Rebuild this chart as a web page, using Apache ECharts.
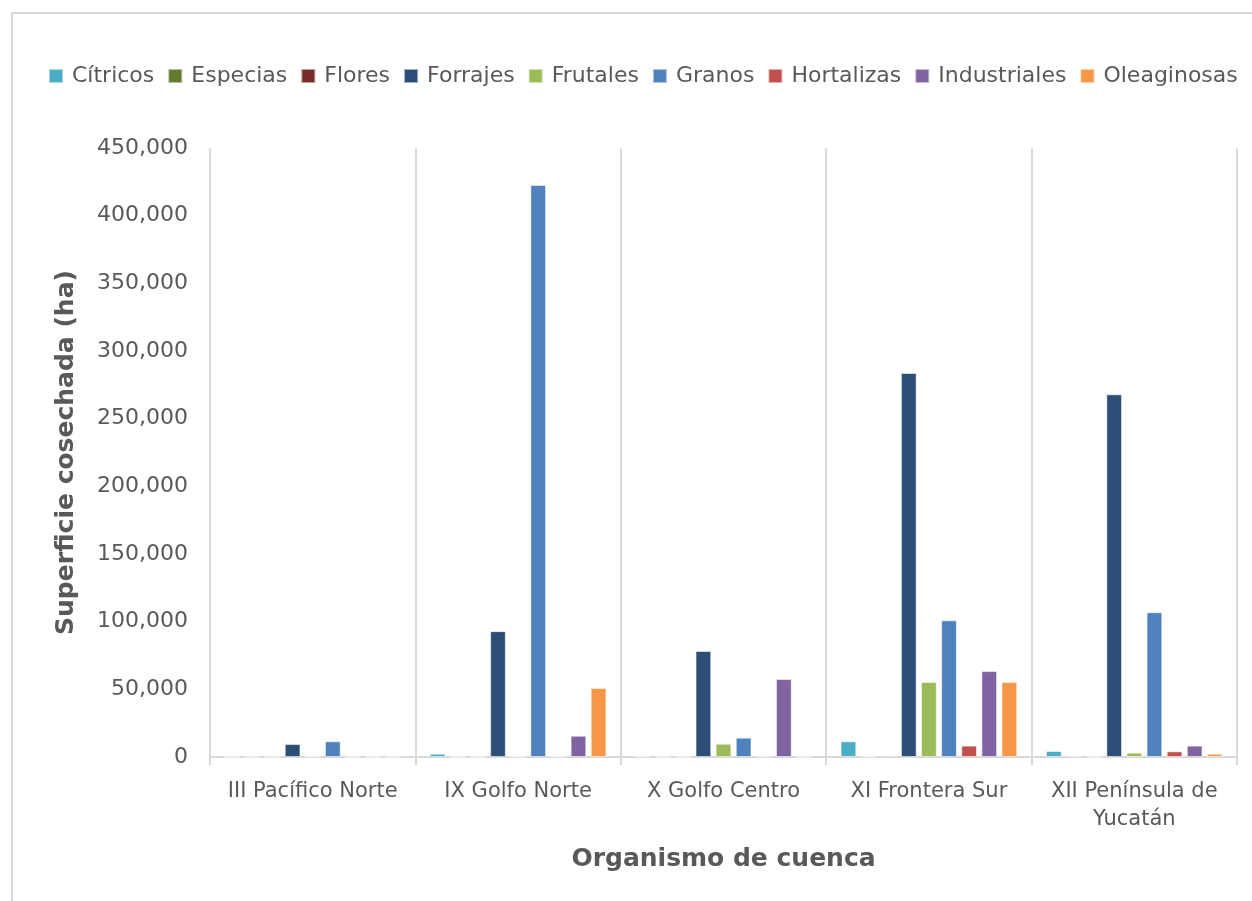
<!DOCTYPE html>
<html>
<head>
<meta charset="utf-8">
<title>Superficie cosechada por organismo de cuenca</title>
<script src="https://cdn.jsdelivr.net/npm/echarts@6/dist/echarts.min.js"></script>
<style>
    html, body { margin: 0; padding: 0; background: #fff; }
    #chart { width: 1252px; height: 901px; }
</style>
</head>
<body>
<div id="chart"></div>
<script>
    // categorias (organismos de cuenca)
    const cuencas = ['III Pacífico Norte', 'IX Golfo Norte', 'X Golfo Centro', 'XI Frontera Sur', 'XII Península de\nYucatán'];

    // superficie cosechada (ha)
    const citricos     = [200, 2400, 500, 11600, 4400];
    const especias     = [100, 200, 200, 300, 800];
    const flores       = [100, 100, 100, 1000, 100];
    const forrajes     = [9600, 93000, 78300, 283800, 268000];
    const frutales     = [500, 300, 9800, 55400, 3200];
    const granos       = [11600, 422700, 14300, 101000, 107000];
    const hortalizas   = [200, 300, 600, 8400, 4200];
    const industriales = [100, 15700, 57600, 63500, 8400];
    const oleaginosas  = [100, 51000, 200, 55400, 2400];

    const yTicks = [0, 50000, 100000, 150000, 200000, 250000, 300000, 350000, 400000, 450000];

    const seriesDefs = [
        ['Cítricos', citricos, '#4BACC6'],
        ['Especias', especias, '#647A2E'],
        ['Flores', flores, '#772C2A'],
        ['Forrajes', forrajes, '#2C4D75'],
        ['Frutales', frutales, '#9BBB59'],
        ['Granos', granos, '#4F81BD'],
        ['Hortalizas', hortalizas, '#C0504D'],
        ['Industriales', industriales, '#8064A2'],
        ['Oleaginosas', oleaginosas, '#F79646']
    ];

    const font = '"DejaVu Sans", "Open Sans", sans-serif';
    const chart = echarts.init(document.getElementById('chart'));

    const option = {
        animation: false,
        textStyle: { fontFamily: font },
        graphic: [{
            type: 'rect',
            shape: { x: 12, y: 13, width: 1300, height: 950 },
            style: { fill: 'none', stroke: '#D9D9D9', lineWidth: 2 },
            silent: true
        }],
        legend: {
            top: 65,
            left: 48,
            width: 1204,
            padding: 0,
            itemWidth: 14,
            itemHeight: 14,
            itemGap: 13,
            icon: 'rect',
            textStyle: { fontSize: 22, color: '#595959', fontFamily: font, padding: [0, 0, 0, 4] },
            data: seriesDefs.map(s => s[0])
        },
        grid: {
            left: 210,
            right: 15,
            top: 148,
            bottom: 144
        },
        xAxis: {
            type: 'category',
            data: cuencas,
            name: 'Organismo de cuenca',
            nameLocation: 'middle',
            nameGap: 90,
            nameTextStyle: { fontSize: 25, fontWeight: 'bold', color: '#595959', fontFamily: font },
            axisLine: { lineStyle: { color: '#D9D9D9', width: 2 } },
            axisTick: { show: true, length: 8, interval: 0, lineStyle: { color: '#D9D9D9', width: 2 } },
            splitLine: { show: true, interval: 0, lineStyle: { color: '#D9D9D9', width: 2 } },
            axisLabel: { fontSize: 21, color: '#595959', margin: 21, interval: 0, lineHeight: 28, fontFamily: font }
        },
        yAxis: {
            type: 'value',
            min: yTicks[0],
            max: yTicks[yTicks.length - 1],
            interval: 50000,
            name: 'Superficie cosechada (ha)',
            nameLocation: 'middle',
            nameGap: 131,
            nameTextStyle: { fontSize: 25, fontWeight: 'bold', color: '#595959', fontFamily: font },
            axisLine: { show: false },
            axisTick: { show: false },
            splitLine: { show: false },
            axisLabel: {
                fontSize: 22,
                color: '#595959',
                margin: 22,
                fontFamily: font,
                formatter: v => v.toLocaleString('en-US')
            }
        },
        series: seriesDefs.map(([name, data, color]) => ({
            name: name,
            type: 'bar',
            data: data,
            barGap: '28%',
            barCategoryGap: '14%',
            itemStyle: {
                color: color,
                borderColor: 'rgba(255,255,255,0.55)',
                borderWidth: 1
            }
        }))
    };

    chart.setOption(option);
</script>
</body>
</html>
